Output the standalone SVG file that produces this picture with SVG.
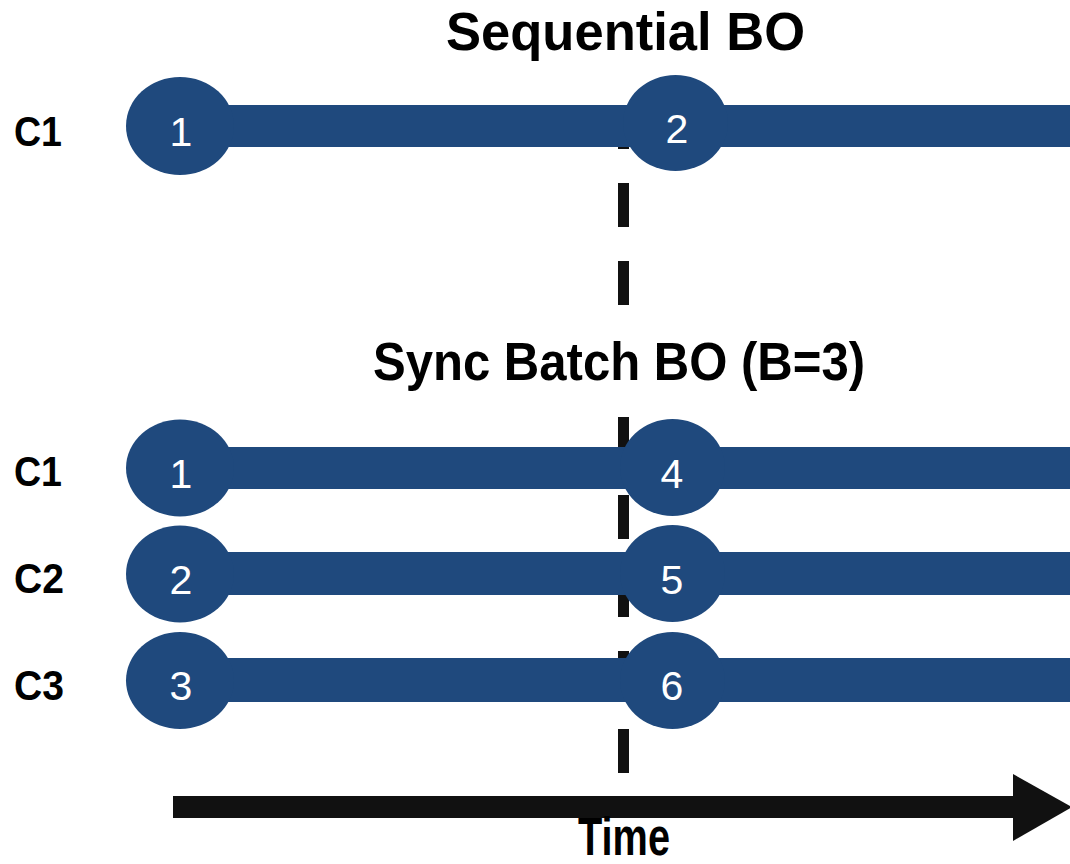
<svg xmlns="http://www.w3.org/2000/svg" width="1070" height="864" viewBox="0 0 1070 864">
  <style>
    .title { font-family: "Liberation Sans", Arial, sans-serif; font-weight: bold; font-size: 53px; fill: #000; text-anchor: middle; }
    .row { font-family: "Liberation Sans", Arial, sans-serif; font-weight: bold; font-size: 42px; fill: #000; }
    .num { font-family: "Liberation Sans", Arial, sans-serif; font-size: 41px; fill: #fff; text-anchor: middle; }
    .node { fill: #1f497d; }
    .bar { fill: #1f497d; }
  </style>
  <rect width="1070" height="864" fill="#fff"/>

  <g id="connectors">
    <line id="sync-line" x1="623.5" y1="105" x2="623.5" y2="773" stroke="#111" stroke-width="11" stroke-dasharray="44 34"/>
    <g id="timelines">
      <rect class="bar" x="180" y="105" width="890" height="42"/>
      <rect class="bar" x="180" y="447" width="890" height="42"/>
      <rect class="bar" x="180" y="552" width="890" height="43"/>
      <rect class="bar" x="180" y="658" width="890" height="44"/>
    </g>
    <g id="time-arrow">
      <rect x="173" y="796" width="842" height="22" fill="#111"/>
      <polygon points="1013,774 1072,807 1013,841" fill="#111"/>
    </g>
  </g>

  <g id="title-seq">
    <text class="title" x="625.5" y="50" textLength="359" lengthAdjust="spacingAndGlyphs">Sequential BO</text>
  </g>
  <g id="title-batch">
    <rect x="368" y="334" width="502" height="58" fill="#fff"/>
    <text class="title" x="619" y="380" font-size="51" textLength="492" lengthAdjust="spacingAndGlyphs">Sync Batch BO (B=3)</text>
  </g>

  <text class="row" x="14" y="146" textLength="48" lengthAdjust="spacingAndGlyphs">C1</text>
  <text class="row" x="14" y="486" textLength="48" lengthAdjust="spacingAndGlyphs">C1</text>
  <text class="row" x="14" y="593" textLength="50" lengthAdjust="spacingAndGlyphs">C2</text>
  <text class="row" x="14" y="700" textLength="50" lengthAdjust="spacingAndGlyphs">C3</text>

  <g id="seq-1"><ellipse class="node" cx="180" cy="126" rx="54" ry="49"/><text class="num" x="181" y="146">1</text></g>
  <g id="seq-2"><ellipse class="node" cx="675.5" cy="123" rx="52.5" ry="48"/><text class="num" x="677" y="143">2</text></g>

  <g id="batch-1"><ellipse class="node" cx="180" cy="468" rx="54" ry="48.5"/><text class="num" x="181" y="488">1</text></g>
  <g id="batch-2"><ellipse class="node" cx="180" cy="574" rx="54" ry="48.5"/><text class="num" x="181" y="594">2</text></g>
  <g id="batch-3"><ellipse class="node" cx="180" cy="680.5" rx="54" ry="48.5"/><text class="num" x="181" y="700">3</text></g>
  <g id="batch-4"><ellipse class="node" cx="672.5" cy="467.5" rx="52.5" ry="48.5"/><text class="num" x="672" y="488">4</text></g>
  <g id="batch-5"><ellipse class="node" cx="672.5" cy="573.5" rx="52.5" ry="48.5"/><text class="num" x="672" y="594">5</text></g>
  <g id="batch-6"><ellipse class="node" cx="672.5" cy="680.5" rx="52.5" ry="48.5"/><text class="num" x="672" y="700">6</text></g>

  <text class="title" x="624" y="855" font-size="41" textLength="92" lengthAdjust="spacingAndGlyphs">Time</text>
</svg>
